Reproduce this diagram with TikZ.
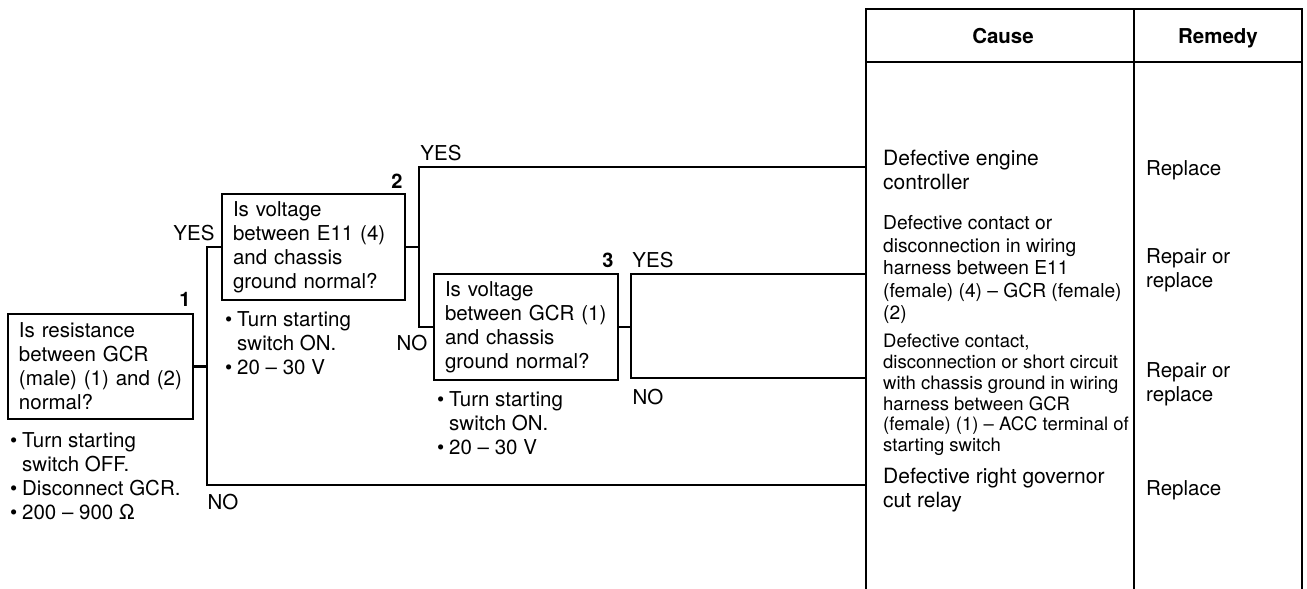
\documentclass[tikz,border=0pt]{standalone}
\usepackage{fontspec}
\setmainfont{TeX Gyre Heros}
\newcommand\fntbox{\fontsize{20.5}{24}\selectfont}
\newcommand\fntA{\fontsize{21}{24}\selectfont}
\newcommand\fntB{\fontsize{19.2}{22.5}\selectfont}
\newcommand\fntC{\fontsize{18.5}{20.8}\selectfont}
\newcommand\fntnum{\fontsize{20}{22}\selectfont\bfseries}
\newcommand\fnthead{\fontsize{20.5}{24}\selectfont\bfseries}
\newcommand\bul{\makebox[12pt][l]{\textbullet}}
\newcommand\nobul{\hspace*{12pt}}
\begin{document}
\begin{tikzpicture}[x=1pt,y=-1pt,
  wire/.style={line width=2.2pt},
  qbox/.style={draw, line width=2.5pt, rectangle, inner xsep=11pt, inner ysep=0pt,
     align=left, font=\fntbox},
  note/.style={inner sep=0pt, align=left, font=\fntbox, anchor=west},
  lbl/.style={inner sep=0pt, font=\fntbox},
  num/.style={inner sep=0pt, font=\fntnum},
  cause/.style={inner sep=0pt, align=left, anchor=west},
  remedy/.style={inner sep=0pt, align=left, anchor=west, font=\fntbox}]
\useasboundingbox (0,0) rectangle (1307,589);

% table frame
\draw[wire] (866,589) -- (866,9) -- (1302,9) -- (1302,589);
\draw[wire] (866,62) -- (1302,62);
\draw[wire] (1134,9) -- (1134,589);
\node[inner sep=0pt, font=\fnthead, anchor=base] (hcause) at (1003,43.5) {Cause};
\node[inner sep=0pt, font=\fnthead, anchor=base] (hremedy) at (1218,43.5) {Remedy};

% table entry points
\coordinate (t1) at (866,167);
\coordinate (t2) at (866,274);
\coordinate (t3) at (866,378);
\coordinate (t4) at (866,485);

% causes
\node[cause, font=\fntA] (c1) at (883,170) {Defective engine\\controller};
\node[cause, font=\fntB] (c2) at (883,270) {Defective contact or\\disconnection in wiring\\harness between E11\\(female) (4) -- GCR (female)\\(2)};
\node[cause, font=\fntC] (c3) at (883,395) {Defective contact,\\disconnection or short circuit\\with chassis ground in wiring\\harness between GCR\\(female) (1) -- ACC terminal of\\starting switch};
\node[cause, font=\fntA] (c4) at (883,490) {Defective right governor\\cut relay};

% remedies
\node[remedy] (r1) at (1146,170) {Replace};
\node[remedy] (r2) at (1146,270) {Repair or\\replace};
\node[remedy] (r3) at (1146,384) {Repair or\\replace};
\node[remedy] (r4) at (1146,490) {Replace};

% question boxes
\node[qbox, text width=163pt, minimum width=185pt, minimum height=105pt] (b1) at (100.5,366.5)
  {Is resistance\\between GCR\\(male) (1) and (2)\\normal?};
\node[qbox, text width=161pt, minimum width=183pt, minimum height=106pt] (b2) at (313.5,247)
  {Is voltage\\between E11 (4)\\and chassis\\ground normal?};
\node[qbox, text width=162pt, minimum width=184pt, minimum height=106pt] (b3) at (526,327)
  {Is voltage\\between GCR (1)\\and chassis\\ground normal?};

% numbers
\node[num] (n1) at (185,299) {1};
\node[num] (n2) at (397,181) {2};
\node[num] (n3) at (608,260) {3};

% notes
\node[note] (m1) at (10,476.5) {\bul Turn starting\\\nobul switch OFF.\\\bul Disconnect GCR.\\\bul 200 -- 900 Ω};
\node[note] (m2) at (225,343) {\bul Turn starting\\\nobul switch ON.\\\bul 20 -- 30 V};
\node[note] (m3) at (437,423) {\bul Turn starting\\\nobul switch ON.\\\bul 20 -- 30 V};

% junctions
\coordinate (j1a) at (207,247);
\coordinate (j1b) at (207,485);
\coordinate (j2a) at (419,167);
\coordinate (j2b) at (419,327);
\coordinate (j3a) at (631,274);
\coordinate (j3b) at (631,378);

% connectors
\draw[wire] (b1.east) -- (b1.east -| j1a);
\draw[wire] (b2.west) -- (j1a) -- (j1b) -- (t4);
\draw[wire] (b2.east) -- (b2.east -| j2a);
\draw[wire] (t1) -- (j2a) -- (j2b) -- (b3.west);
\draw[wire] (b3.east) -- (b3.east -| j3a);
\draw[wire] (t2) -- (j3a) -- (j3b) -- (t3);

% branch labels
\node[lbl] (y1) at (194,233) {YES};
\node[lbl] (no1) at (223,502) {NO};
\node[lbl] (y2) at (441,153) {YES};
\node[lbl] (no2) at (412,343) {NO};
\node[lbl] (y3) at (653,260) {YES};
\node[lbl] (no3) at (648,397) {NO};
\end{tikzpicture}
\end{document}
